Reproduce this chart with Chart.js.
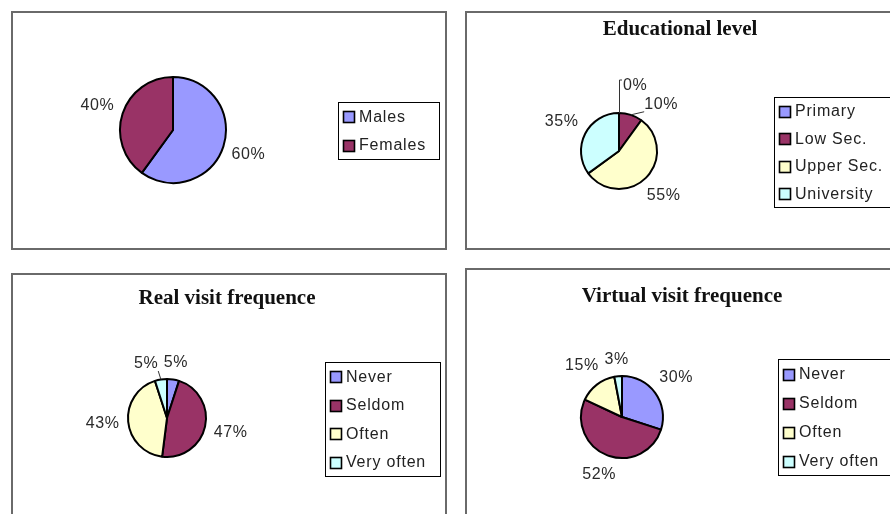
<!DOCTYPE html>
<html><head><meta charset="utf-8">
<script src="https://cdn.jsdelivr.net/npm/chart.js@4"></script>
<style>
html,body{margin:0;padding:0;background:#fff;width:890px;height:514px;overflow:hidden;}
.frame{position:absolute;box-sizing:border-box;border:2px solid #6a6a6a;}
canvas{position:absolute;}
</style></head><body>
<script>
// ---- data ----
const genderLabels = ['Males', 'Females'];
const genderValues = [60, 40];
const eduLabels = ['Primary', 'Low Sec.', 'Upper Sec.', 'University'];
const eduValues = [0, 10, 55, 35];
const freqLabels = ['Never', 'Seldom', 'Often', 'Very often'];
const realVisitValues = [5, 47, 43, 5];
const virtualVisitValues = [30, 52, 15, 3];
const titles = ['', 'Educational level', 'Real visit frequence', 'Virtual visit frequence'];

// ---- layout / style ----
const palette = ['#9999FF', '#993366', '#FFFFCC', '#CCFFFF'];
const panels = [
  {labels: genderLabels, values: genderValues, title: titles[0],
   x: 11, y: 11, w: 436, h: 239, cx: 173, cy: 130, r: 53, tx: 0, ty: 0,
   lg: {x: 338, y: 102, w: 101, h: 57}},
  {labels: eduLabels, values: eduValues, title: titles[1],
   x: 465, y: 11, w: 440, h: 239, cx: 619, cy: 151, r: 38, tx: 680, ty: 30,
   lg: {x: 774, y: 97, w: 130, h: 110}},
  {labels: freqLabels, values: realVisitValues, title: titles[2],
   x: 11, y: 273, w: 436, h: 260, cx: 167, cy: 418, r: 39, tx: 227, ty: 299,
   lg: {x: 325, y: 362, w: 115, h: 114}},
  {labels: freqLabels, values: virtualVisitValues, title: titles[3],
   x: 465, y: 268, w: 440, h: 260, cx: 622, cy: 417, r: 41, tx: 682, ty: 297,
   lg: {x: 778, y: 359, w: 130, h: 116}}
];

const pieDecor = {
  id: 'pieDecor',
  afterDatasetsDraw(chart, args, opts) {
    const p = opts.panel;
    const ctx = chart.ctx;
    const ox = p.x, oy = p.y;
    ctx.save();
    // title
    if (p.title) {
      ctx.font = 'bold 21px "Liberation Serif", "Times New Roman", serif';
      ctx.fillStyle = '#111';
      ctx.textAlign = 'center';
      ctx.textBaseline = 'middle';
      ctx.fillText(p.title, p.tx - ox, p.ty - oy);
    }
    // data labels
    const meta = chart.getDatasetMeta(0);
    const values = chart.data.datasets[0].data;
    ctx.font = '16px "Liberation Sans", Arial, sans-serif';
    ctx.letterSpacing = '0.6px';
    ctx.fillStyle = '#2a2a2a';
    ctx.textAlign = 'center';
    ctx.textBaseline = 'middle';
    const placed = [];
    const h = 15, m = 3;
    meta.data.forEach((arc, i) => {
      const txt = values[i] + '%';
      const w = ctx.measureText(txt).width;
      const cx = arc.x, cy = arc.y, r = arc.outerRadius;
      let mid = (arc.startAngle + arc.endAngle) / 2;
      if (values[i] === 0) {
        // zero slice: label lifted on a leader line
        const top = cy - r - 33;
        ctx.strokeStyle = '#333'; ctx.lineWidth = 1;
        ctx.beginPath(); ctx.moveTo(cx + 0.5, cy - r); ctx.lineTo(cx + 0.5, top); ctx.lineTo(cx + 3, top); ctx.stroke();
        const lx = cx + 4 + w / 2, ly = top + 6;
        ctx.fillText(txt, lx, ly);
        placed.push({x0: lx - w / 2, x1: lx + w / 2, y0: ly - h / 2, y1: ly + h / 2});
        return;
      }
      const pos = (a) => {
        const dx = Math.cos(a), dy = Math.sin(a);
        const d = r + 8 + Math.abs(dx) * w / 2 + Math.abs(dy) * h / 2;
        const lx = cx + dx * d, ly = cy + dy * d;
        return {lx, ly, box: {x0: lx - w / 2, x1: lx + w / 2, y0: ly - h / 2, y1: ly + h / 2}};
      };
      const hits = (b) => placed.some(q => !(b.x1 + m < q.x0 || b.x0 - m > q.x1 || b.y1 + m < q.y0 || b.y0 - m > q.y1));
      let a = mid, res = pos(a), step = 0;
      // push away from neighbours when overlapping
      const dir = (mid > Math.PI) ? -1 : 1;
      while (hits(res.box) && step < 40) { step++; a = mid + dir * step * Math.PI / 60; res = pos(a); }
      if (step > 0) {
        const ex = cx + Math.cos(mid) * r, ey = cy + Math.sin(mid) * r;
        ctx.strokeStyle = '#333'; ctx.lineWidth = 1;
        ctx.beginPath(); ctx.moveTo(ex, ey);
        ctx.lineTo(Math.min(Math.max(ex, res.box.x0), res.box.x1), Math.min(Math.max(ey, res.box.y0), res.box.y1));
        ctx.stroke();
      }
      ctx.fillText(txt, res.lx, res.ly);
      placed.push(res.box);
    });
    // legend box
    const L = p.lg;
    const lx = L.x - ox, ly = L.y - oy;
    ctx.fillStyle = '#fff';
    ctx.fillRect(lx, ly, L.w, L.h);
    ctx.strokeStyle = '#000'; ctx.lineWidth = 1;
    ctx.strokeRect(lx + 0.5, ly + 0.5, L.w, L.h);
    const n = chart.data.labels.length;
    const pitch = L.h / n;
    ctx.font = '16px "Liberation Sans", Arial, sans-serif';
    ctx.letterSpacing = '0.8px';
    ctx.textAlign = 'left';
    chart.data.labels.forEach((lab, i) => {
      const yc = ly + pitch * (i + 0.5);
      ctx.fillStyle = palette[i];
      ctx.fillRect(lx + 5.5, Math.round(yc - 5) + 0.5, 11, 11);
      ctx.strokeStyle = '#000'; ctx.lineWidth = 1.6;
      ctx.strokeRect(lx + 5.5, Math.round(yc - 5) + 0.5, 11, 11);
      ctx.fillStyle = '#222';
      ctx.fillText(lab, lx + 21, yc + 1);
    });
    ctx.restore();
  }
};

panels.forEach(p => {
  const frame = document.createElement('div');
  frame.className = 'frame';
  Object.assign(frame.style, {left: p.x + 'px', top: p.y + 'px', width: p.w + 'px', height: p.h + 'px'});
  document.body.appendChild(frame);
  const cv = document.createElement('canvas');
  Object.assign(cv.style, {left: p.x + 'px', top: p.y + 'px', width: p.w + 'px', height: p.h + 'px'});
  cv.width = p.w; cv.height = p.h;
  document.body.appendChild(cv);
  const s = p.r + 3;
  const rx = p.cx - p.x, ry = p.cy - p.y;
  new Chart(cv, {
    type: 'pie',
    data: {
      labels: p.labels,
      datasets: [{data: p.values, backgroundColor: palette.slice(0, p.values.length),
                  borderColor: '#000', borderWidth: 2}]
    },
    options: {
      responsive: false, animation: false, events: [],
      radius: p.r,
      layout: {padding: {left: rx - s, right: p.w - rx - s, top: ry - s, bottom: p.h - ry - s}},
      plugins: {legend: {display: false}, tooltip: {enabled: false}, title: {display: false},
                pieDecor: {panel: p}}
    },
    plugins: [pieDecor]
  });
});
</script>
</body></html>
